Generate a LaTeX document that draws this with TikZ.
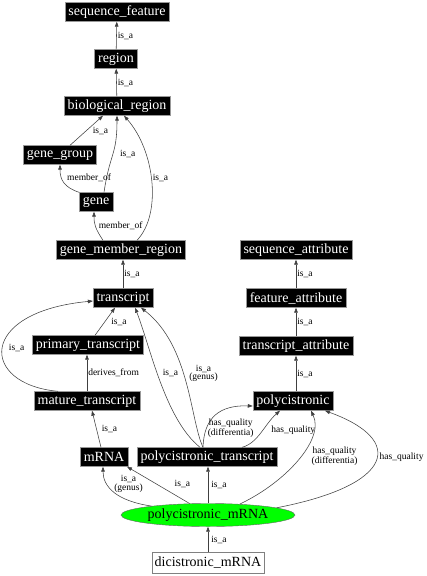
\documentclass[tikz,border=0pt]{standalone}
\usepackage{fontspec}
\setmainfont{Liberation Serif}
\usetikzlibrary{shapes.geometric,arrows.meta}

\begin{document}
\begin{tikzpicture}[x=1pt,y=-1pt,
    term/.style={draw=gray!80,fill=black,text=white,inner xsep=3.5pt,inner ysep=1pt,
                 minimum height=19pt,font=\fontsize{14}{16}\selectfont},
    lbl/.style={font=\fontsize{9.5}{8.5}\selectfont,align=center,inner sep=1pt,text=black},
    rel/.style={-{Triangle[length=5pt,width=3.6pt]},draw=black!75,line width=.55pt}]
  \useasboundingbox (0,0) rectangle (426,576);
  \node[term] (seqfeat) at (117,12) {sequence\_feature};
  \node[term] (region) at (116,59) {region};
  \node[term] (bioreg) at (117,106) {biological\_region};
  \node[term] (genegroup) at (60,155) {gene\_group};
  \node[term] (gene) at (96,202) {gene};
  \node[term] (gmr) at (121,250) {gene\_member\_region};
  \node[term] (transcript) at (123,298) {transcript};
  \node[term] (primary) at (88,345) {primary\_transcript};
  \node[term] (mature) at (87,401) {mature\_transcript};
  \node[term] (mrna) at (104,457) {mRNA};
  \node[term] (ptrans) at (207,457) {polycistronic\_transcript};
  \node[term] (polyc) at (293,401) {polycistronic};
  \node[term] (tattr) at (296,346) {transcript\_attribute};
  \node[term] (fattr) at (296,298) {feature\_attribute};
  \node[term] (sattr) at (296,250) {sequence\_attribute};
  \node[ellipse,draw=gray!80!black,fill=green,minimum width=174pt,minimum height=23pt,
        inner sep=0pt,font=\fontsize{14}{16}\selectfont] (pmrna) at (208,515) {polycistronic\_mRNA};
  \node[draw=gray,fill=white,inner xsep=3pt,minimum height=21pt,
        font=\fontsize{14}{16}\selectfont] (dmrna) at (208,563) {dicistronic\_mRNA};

  \draw[rel] (region) -- (seqfeat) node[lbl,midway,right]{is\_a};
  \draw[rel] (bioreg) -- (region) node[lbl,midway,right]{is\_a};
  \draw[rel] ([xshift=10pt]genegroup.north) -- ([xshift=-14pt]bioreg.south)
    node[lbl,midway,right=5pt]{is\_a};
  \draw[rel] ([xshift=8pt]gene.north) .. controls +(6,-40) and +(0,40) .. (bioreg.south)
    node[lbl,pos=.5,right=6pt]{is\_a};
  \draw[rel] (gene.north west) .. controls +(-15,-5) and +(0,15) .. (genegroup.south)
    node[lbl,pos=.5,anchor=west,xshift=2pt,yshift=4pt]{member\_of};
  \draw[rel] ([xshift=16pt]gmr.north) .. controls +(25,-26) and +(31,35) .. ([xshift=7pt]bioreg.south)
    node[lbl,pos=.5,right,yshift=3pt]{is\_a};
  \draw[rel] ([xshift=-18pt]gmr.north) .. controls +(-8,-12) and +(0,12) .. ([xshift=-2pt]gene.south)
    node[lbl,pos=.5,right=2pt]{member\_of};
  \draw[rel] (transcript.north) -- (transcript.north |- gmr.south) node[lbl,midway,right]{is\_a};
  \draw[rel] ([xshift=7pt]primary.north) -- ([xshift=-8pt]transcript.south)
    node[lbl,midway,right=5pt]{is\_a};
  \draw[rel] ([xshift=-29pt]mature.north) .. controls +(-78,-7) and +(-116,11) .. ([yshift=-3pt]transcript.west)
    node[lbl,pos=.5,right=5pt]{is\_a};
  \draw[rel] (mature.north) -- (mature.north |- primary.south) node[lbl,midway,right]{derives\_from};
  \draw[rel] ([xshift=-3pt]mrna.north) -- ([xshift=5pt]mature.south) node[lbl,midway,right=4pt]{is\_a};
  \draw[rel] ([xshift=-7pt]ptrans.north) .. controls +(-35,-28) and +(15,38) .. ([xshift=12pt]transcript.south)
    node[lbl,pos=.55,right=4.5pt]{is\_a};
  \draw[rel] ([xshift=-4pt]ptrans.north) .. controls +(-13,-28) and +(49,38) .. ([xshift=18pt]transcript.south)
    node[lbl,pos=.55,right=5pt]{is\_a\\(genus)};
  \draw[rel] ([xshift=-4pt]ptrans.north) .. controls +(1,-30) and +(-33,-1) .. ([yshift=-5pt]polyc.west)
    node[lbl,pos=.25,anchor=west]{has\_quality\\(differentia)};
  \draw[rel] ([xshift=35pt]ptrans.north) .. controls +(16,-4) and +(-15,13) .. ([xshift=-13pt]polyc.south)
    node[lbl,pos=.55,right=7pt]{has\_quality};
  \draw[rel] ([xshift=3pt]polyc.north) -- (tattr.south) node[lbl,midway,right]{is\_a};
  \draw[rel] (tattr) -- (fattr) node[lbl,midway,right]{is\_a};
  \draw[rel] (fattr) -- (sattr) node[lbl,midway,right]{is\_a};
  \draw[rel] (pmrna.171) .. controls +(-35,-5) and +(0,20) .. ([xshift=-1pt]mrna.south)
    node[lbl,pos=.6,anchor=west,xshift=3pt,yshift=4pt]{is\_a\\(genus)};
  \draw[rel] (pmrna.148) -- ([xshift=23pt]mrna.south) node[lbl,midway,xshift=24pt,yshift=1.5pt]{is\_a};
  \draw[rel] (pmrna.north) -- (pmrna.north |- ptrans.south) node[lbl,midway,right=2pt]{is\_a};
  \draw[rel] (pmrna.19) .. controls +(45,-21) and +(14,29) .. ([xshift=18pt]polyc.south)
    node[lbl,pos=.5,anchor=west,xshift=13pt,yshift=4pt]{has\_quality\\(differentia)};
  \draw[rel] (pmrna.6) .. controls +(119,-23) and +(80,29) .. ([xshift=32pt]polyc.south)
    node[lbl,pos=.5,anchor=west,xshift=3pt,yshift=4.5pt]{has\_quality};
  \draw[rel] (dmrna) -- (pmrna) node[lbl,midway,right=2pt]{is\_a};
\end{tikzpicture}
\end{document}
